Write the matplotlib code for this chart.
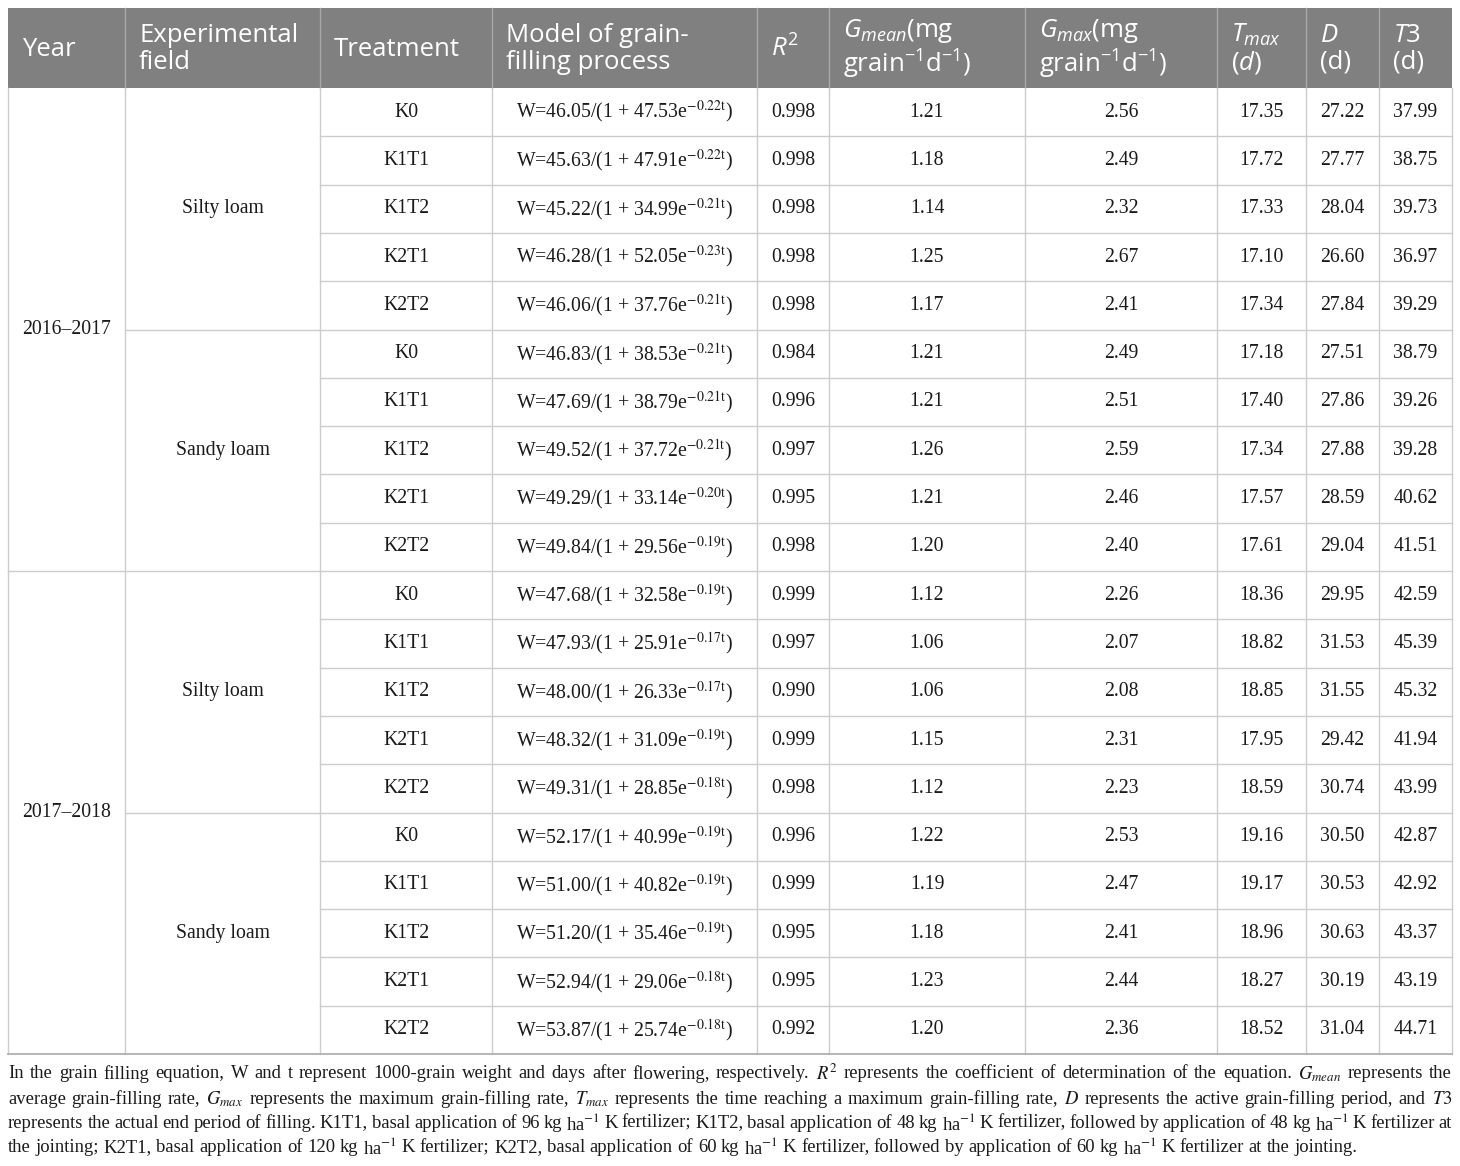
import matplotlib
matplotlib.use("Agg")
import matplotlib.pyplot as plt
from matplotlib.patches import Rectangle

plt.rcParams['mathtext.fontset'] = 'custom'
plt.rcParams['mathtext.rm'] = 'Open Sans'
plt.rcParams['mathtext.it'] = 'Open Sans:italic'
plt.rcParams['mathtext.bf'] = 'Open Sans:bold'

# ---------------- data ----------------
years = ['2016–2017', '2017–2018']
fields = ['Silty loam', 'Sandy loam']
treatments = ['K0', 'K1T1', 'K1T2', 'K2T1', 'K2T2']

w_asym = [46.05, 45.63, 45.22, 46.28, 46.06, 46.83, 47.69, 49.52, 49.29, 49.84,
          47.68, 47.93, 48.00, 48.32, 49.31, 52.17, 51.00, 51.20, 52.94, 53.87]
coef_a = [47.53, 47.91, 34.99, 52.05, 37.76, 38.53, 38.79, 37.72, 33.14, 29.56,
          32.58, 25.91, 26.33, 31.09, 28.85, 40.99, 40.82, 35.46, 29.06, 25.74]
rate_k = [0.22, 0.22, 0.21, 0.23, 0.21, 0.21, 0.21, 0.21, 0.20, 0.19,
          0.19, 0.17, 0.17, 0.19, 0.18, 0.19, 0.19, 0.19, 0.18, 0.18]
r2 = [0.998, 0.998, 0.998, 0.998, 0.998, 0.984, 0.996, 0.997, 0.995, 0.998,
      0.999, 0.997, 0.990, 0.999, 0.998, 0.996, 0.999, 0.995, 0.995, 0.992]
g_mean = [1.21, 1.18, 1.14, 1.25, 1.17, 1.21, 1.21, 1.26, 1.21, 1.20,
          1.12, 1.06, 1.06, 1.15, 1.12, 1.22, 1.19, 1.18, 1.23, 1.20]
g_max = [2.56, 2.49, 2.32, 2.67, 2.41, 2.49, 2.51, 2.59, 2.46, 2.40,
         2.26, 2.07, 2.08, 2.31, 2.23, 2.53, 2.47, 2.41, 2.44, 2.36]
t_max = [17.35, 17.72, 17.33, 17.10, 17.34, 17.18, 17.40, 17.34, 17.57, 17.61,
         18.36, 18.82, 18.85, 17.95, 18.59, 19.16, 19.17, 18.96, 18.27, 18.52]
dur_d = [27.22, 27.77, 28.04, 26.60, 27.84, 27.51, 27.86, 27.88, 28.59, 29.04,
         29.95, 31.53, 31.55, 29.42, 30.74, 30.50, 30.53, 30.63, 30.19, 31.04]
t3 = [37.99, 38.75, 39.73, 36.97, 39.29, 38.79, 39.26, 39.28, 40.62, 41.51,
      42.59, 45.39, 45.32, 41.94, 43.99, 42.87, 42.92, 43.37, 43.19, 44.71]

headers = ['Year', 'Experimental\nfield', 'Treatment', 'Model of grain-\nfilling process',
           '$R^2$', '$G_{mean}$(mg\ngrain$^{−1}$d$^{−1}$)', '$G_{max}$(mg\ngrain$^{−1}$d$^{−1}$)',
           '$T_{max}$\n$(d)$', '$D$\n(d)', '$T3$\n(d)']

footnote_lines = [
    "In the grain filling equation, W and t represent 1000-grain weight and days after flowering, respectively. $R^2$ represents the coefficient of determination of the equation. $G_{mean}$ represents the",
    "average grain-filling rate, $G_{max}$ represents the maximum grain-filling rate, $T_{max}$ represents the time reaching a maximum grain-filling rate, $D$ represents the active grain-filling period, and $T3$",
    "represents the actual end period of filling. K1T1, basal application of 96 kg ha$^{-1}$ K fertilizer; K1T2, basal application of 48 kg ha$^{-1}$ K fertilizer, followed by application of 48 kg ha$^{-1}$ K fertilizer at",
    "the jointing; K2T1, basal application of 120 kg ha$^{-1}$ K fertilizer; K2T2, basal application of 60 kg ha$^{-1}$ K fertilizer, followed by application of 60 kg ha$^{-1}$ K fertilizer at the jointing.",
]

# ---------------- layout ----------------
W, H = 1460, 1166
col_x = [8, 125, 320, 492, 757, 829, 1025, 1217, 1306, 1379, 1452]
head_top, head_bot = 8, 88
table_bot = 1054
n_rows = len(w_asym)
row_h = (table_bot - head_bot) / n_rows

fig = plt.figure(figsize=(W / 100, H / 100), dpi=100)
ax = fig.add_axes([0, 0, 1, 1])
ax.set_xlim(0, W)
ax.set_ylim(H, 0)
ax.axis('off')

head_bg = '#808080'
grid_c = '#cccccc'
txt_c = '#1a1a1a'
serif = 'Liberation Serif'

ax.add_patch(Rectangle((col_x[0], head_top), col_x[-1] - col_x[0], head_bot - head_top,
                       facecolor=head_bg, edgecolor='none', zorder=1))
for x in col_x[1:-1]:
    ax.plot([x, x], [head_top, head_bot], color='#a8a8a8', lw=1, zorder=2)

for i, h in enumerate(headers):
    ax.text(col_x[i] + 14, (head_top + head_bot) / 2 + 1, h, color='white', fontsize=18.5,
            family='Open Sans', ha='left', va='center', linespacing=1.08, zorder=3)

# grid lines of body
for x in col_x:
    ax.plot([x, x], [head_bot, table_bot], color=grid_c, lw=1, zorder=2)
for r in range(1, n_rows):
    y = head_bot + r * row_h
    if r % 10 == 0:
        x0 = col_x[0]
    elif r % 5 == 0:
        x0 = col_x[1]
    else:
        x0 = col_x[2]
    ax.plot([x0, col_x[-1]], [y, y], color=grid_c, lw=1, zorder=2)
ax.plot([col_x[0], col_x[-1]], [table_bot, table_bot], color='#b0b0b0', lw=1.3, zorder=2)

def cx(i):
    return (col_x[i] + col_x[i + 1]) / 2

fs = 14.2
for gi, yr in enumerate(years):
    yc = head_bot + (gi * 10 + 5) * row_h
    ax.text(cx(0), yc, yr, fontsize=fs, family=serif, color=txt_c, ha='center', va='center')
    for fi, fld in enumerate(fields):
        yc = head_bot + (gi * 10 + fi * 5 + 2.5) * row_h
        ax.text(cx(1), yc, fld, fontsize=fs, family=serif, color=txt_c, ha='center', va='center')

for r in range(n_rows):
    yc = head_bot + (r + 0.5) * row_h
    cells = [treatments[r % 5],
             f"W={w_asym[r]:.2f}/(1 + {coef_a[r]:.2f}e$^{{\\mathrm{{-{rate_k[r]:.2f}t}}}}$)",
             f"{r2[r]:.3f}", f"{g_mean[r]:.2f}", f"{g_max[r]:.2f}",
             f"{t_max[r]:.2f}", f"{dur_d[r]:.2f}", f"{t3[r]:.2f}"]
    for j, c in enumerate(cells):
        ax.text(cx(j + 2), yc, c, fontsize=fs, family=serif, color=txt_c,
                ha='center', va='center', math_fontfamily='stix')

# ---------------- footnote (justified) ----------------
renderer = fig.canvas.get_renderer()
fn_fs = 12.0
left, right = col_x[0], col_x[-1]
line_y = [1074, 1099, 1123, 1148]

def measure(tokens, size):
    ws = []
    for tk in tokens:
        t = ax.text(0, 0, tk, fontsize=size, family=serif, math_fontfamily='stix')
        ws.append(t.get_window_extent(renderer).width)
        t.remove()
    return ws

# fit font size so that the fullest justified line has normal word spaces
need = 0
for ln in footnote_lines[:-1]:
    toks = ln.split(' ')
    ws = measure(toks, fn_fs)
    need = max(need, (sum(ws) + (len(toks) - 1) * fn_fs * 100 / 72 * 0.22) / (right - left))
fn_fs = fn_fs / need

for li, ln in enumerate(footnote_lines):
    toks = ln.split(' ')
    ws = measure(toks, fn_fs)
    if li < len(footnote_lines) - 1:
        gap = (right - left - sum(ws)) / (len(toks) - 1)
    else:
        gap = fn_fs * 100 / 72 * 0.25
    x = left
    for tk, w in zip(toks, ws):
        ax.text(x, line_y[li], tk, fontsize=fn_fs, family=serif, color=txt_c,
                ha='left', va='center', math_fontfamily='stix')
        x += w + gap

fig.savefig('out.png', dpi=100, facecolor='white')
